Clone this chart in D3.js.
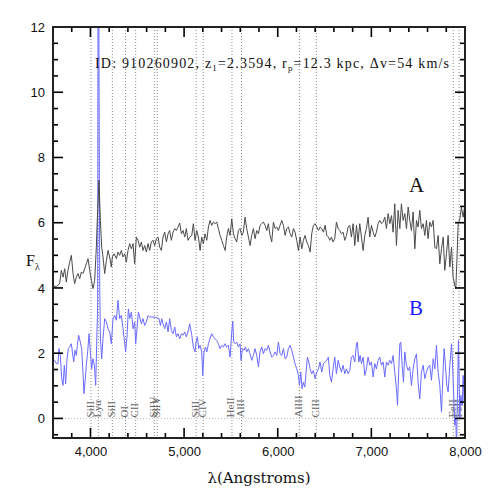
<!DOCTYPE html>
<html>
<head>
<meta charset="utf-8">
<script src="https://cdn.jsdelivr.net/npm/d3@7"></script>
<style>
  body { margin: 0; background: #fff; }
</style>
</head>
<body>
<script>

const width = 491;
const height = 491;
const margin = { top: 27, right: 26, bottom: 53, left: 53 };

// spectre A : [lambda, flux]
const specA = [
  [3600,4.05],[3640,4.05],[3671,4.13],[3689,4.54],[3707,4.33],[3725,4.59],[3742,4.18],[3760,4.54],[3778,4.79],[3796,5.00],
  [3814,4.44],[3831,4.13],[3849,4.33],[3867,4.44],[3885,4.28],[3903,4.49],[3920,4.44],[3938,4.59],[3956,4.74],[3974,4.90],
  [3992,4.54],[4010,4.23],[4027,3.98],[4045,4.23],[4063,5.25],[4074,6.17],[4084,6.79],[4091,7.30],[4106,6.07],[4120,5.25],
  [4134,4.95],[4152,4.44],[4170,4.84],[4188,5.15],[4205,4.95],[4223,4.64],[4234,4.95],[4252,5.05],[4277,4.90],[4294,5.10],
  [4312,5.00],[4330,5.15],[4348,4.95],[4366,5.05],[4383,4.79],[4401,5.15],[4419,5.36],[4437,5.20],[4455,5.36],[4472,4.74],
  [4490,5.56],[4508,5.46],[4526,5.25],[4544,5.41],[4561,5.15],[4579,5.30],[4597,5.10],[4615,5.36],[4633,5.15],[4650,5.41],
  [4668,5.46],[4686,5.30],[4704,5.51],[4722,5.56],[4740,5.25],[4757,5.15],[4775,5.56],[4793,5.71],[4811,5.41],[4829,5.66],
  [4846,5.76],[4864,5.46],[4882,5.71],[4900,5.82],[4918,5.76],[4935,5.87],[4953,5.99],[4971,5.66],[4989,5.76],[5007,5.56],
  [5024,5.82],[5042,5.46],[5060,5.56],[5082,5.61],[5099,5.97],[5117,5.46],[5135,5.76],[5153,5.56],[5171,5.15],[5188,5.56],
  [5206,5.36],[5224,5.66],[5242,5.46],[5260,5.87],[5277,6.07],[5295,5.92],[5313,6.02],[5331,5.97],[5349,6.02],[5366,5.82],
  [5384,5.61],[5402,5.46],[5420,5.30],[5438,5.15],[5455,5.56],[5473,5.82],[5491,5.61],[5509,6.12],[5527,5.66],[5544,5.51],
  [5562,5.41],[5580,5.76],[5598,5.82],[5616,5.61],[5633,5.71],[5651,6.17],[5669,5.82],[5687,5.56],[5705,5.30],[5722,5.61],
  [5740,5.82],[5758,5.51],[5776,5.76],[5794,5.66],[5811,5.92],[5829,5.97],[5847,6.02],[5865,5.92],[5883,5.76],[5900,5.97],
  [5918,5.61],[5936,5.41],[5954,6.02],[5972,5.82],[5990,5.87],[6007,5.76],[6025,5.92],[6043,6.07],[6061,5.92],[6079,5.61],
  [6096,5.82],[6114,5.87],[6132,5.66],[6150,5.56],[6168,5.82],[6185,5.71],[6203,5.46],[6221,5.15],[6239,5.56],[6257,5.20],
  [6274,5.46],[6292,5.61],[6310,5.41],[6328,5.30],[6346,5.10],[6363,5.66],[6381,5.92],[6399,5.97],[6417,5.87],[6435,5.76],
  [6452,5.87],[6470,5.82],[6488,5.71],[6506,5.92],[6524,5.61],[6541,5.56],[6556,5.46],[6574,5.56],[6591,5.41],[6609,5.51],
  [6627,6.02],[6645,5.82],[6663,5.76],[6680,5.66],[6698,5.71],[6716,5.46],[6734,5.61],[6752,5.87],[6769,5.92],[6787,5.56],
  [6805,5.97],[6823,5.30],[6841,5.92],[6858,5.41],[6876,5.97],[6894,5.56],[6912,5.15],[6930,5.61],[6947,5.82],[6965,6.17],
  [6983,5.56],[7001,5.92],[7019,5.71],[7037,5.56],[7054,5.71],[7072,5.97],[7090,6.07],[7108,5.97],[7126,6.02],[7143,6.17],
  [7161,5.82],[7179,6.28],[7197,5.97],[7215,6.22],[7232,5.71],[7250,6.58],[7268,5.30],[7286,6.38],[7304,5.82],[7321,6.58],
  [7339,6.07],[7357,6.28],[7375,5.82],[7393,6.48],[7410,6.07],[7428,5.76],[7446,6.33],[7464,5.20],[7482,6.07],[7499,5.87],
  [7517,6.38],[7535,5.82],[7553,5.97],[7571,5.61],[7588,6.07],[7606,5.51],[7624,6.02],[7642,5.87],[7660,6.07],[7678,5.25],
  [7695,5.20],[7713,5.61],[7731,4.74],[7749,5.20],[7767,5.56],[7784,4.54],[7802,5.05],[7820,5.61],[7838,4.64],[7856,5.25],
  [7873,4.33],[7891,4.08],[7902,3.97],[7916,5.05],[7927,5.97],[7945,6.12],[7962,6.48],[7980,6.17],[7998,6.53]
];

// spectre B : [lambda, flux]
const specB = [
  [3600,1.83],[3618,1.78],[3636,1.68],[3653,1.68],[3664,2.14],[3678,1.93],[3693,1.22],[3707,1.01],[3721,1.63],[3735,1.06],
  [3750,1.83],[3764,2.14],[3778,2.19],[3796,2.29],[3807,2.04],[3821,1.73],[3835,2.09],[3849,1.93],[3860,2.24],[3874,2.55],
  [3892,2.34],[3906,2.14],[3920,1.42],[3931,0.76],[3945,1.22],[3956,1.63],[3970,2.04],[3985,2.60],[3999,2.04],[4013,1.52],
  [4027,1.83],[4042,1.63],[4056,1.01],[4066,2.24],[4077,3.47],[4081,14],[4088,14],[4099,4.00],[4106,2.50],[4120,1.83],
  [4134,2.44],[4152,3.06],[4170,2.96],[4188,2.75],[4205,2.65],[4223,2.29],[4241,3.06],[4259,3.16],[4277,3.01],[4294,3.62],
  [4312,3.06],[4330,3.16],[4348,2.75],[4366,2.29],[4376,2.04],[4391,2.55],[4405,3.36],[4419,3.06],[4437,3.26],[4455,2.75],
  [4472,2.96],[4483,2.29],[4497,2.75],[4512,3.26],[4526,3.11],[4544,2.90],[4561,3.06],[4579,2.85],[4597,2.96],[4615,3.16],
  [4633,3.11],[4668,3.11],[4704,3.09],[4732,3.06],[4747,2.85],[4761,3.06],[4775,2.90],[4793,2.75],[4811,2.96],[4829,2.65],
  [4846,3.06],[4864,2.70],[4882,2.60],[4900,2.80],[4918,2.50],[4935,2.60],[4953,2.44],[4971,2.60],[4989,2.55],[5007,2.65],
  [5024,2.50],[5042,2.65],[5060,2.90],[5082,2.55],[5099,2.19],[5117,2.04],[5128,2.34],[5142,2.50],[5156,2.14],[5171,2.24],
  [5188,2.04],[5199,1.32],[5213,2.04],[5228,2.19],[5242,2.04],[5260,2.29],[5277,2.44],[5295,2.60],[5313,2.50],[5331,2.44],
  [5349,2.39],[5366,2.29],[5384,2.14],[5402,2.24],[5420,2.19],[5438,2.29],[5455,2.19],[5473,2.24],[5491,1.88],[5509,2.65],
  [5520,2.98],[5530,2.34],[5544,2.29],[5562,2.34],[5580,2.19],[5598,2.29],[5608,1.78],[5623,2.14],[5641,2.09],[5655,2.19],
  [5669,2.04],[5687,2.14],[5705,1.98],[5722,1.78],[5740,1.93],[5758,2.14],[5776,1.93],[5794,1.58],[5811,2.04],[5829,2.19],
  [5847,1.98],[5865,2.14],[5883,2.09],[5900,2.24],[5918,2.04],[5936,1.88],[5954,1.93],[5972,2.04],[5990,1.93],[6007,2.34],
  [6025,1.98],[6043,1.93],[6061,2.14],[6079,1.83],[6096,1.88],[6114,2.14],[6132,2.24],[6150,2.09],[6168,1.88],[6185,1.68],
  [6203,1.52],[6221,1.32],[6232,1.01],[6246,1.42],[6260,0.91],[6274,1.11],[6289,0.96],[6303,1.42],[6317,1.88],[6331,1.73],
  [6346,1.52],[6363,1.37],[6381,1.47],[6399,1.22],[6417,1.42],[6435,1.52],[6452,1.73],[6470,1.42],[6488,1.68],[6506,1.73],
  [6524,1.78],[6541,1.88],[6556,1.32],[6574,1.11],[6591,1.52],[6609,1.88],[6627,1.37],[6645,1.78],[6663,1.58],[6680,1.42],
  [6698,1.63],[6716,1.37],[6734,1.52],[6752,1.37],[6769,1.47],[6787,1.88],[6805,1.93],[6823,1.73],[6841,2.29],[6851,2.34],
  [6866,1.73],[6880,1.93],[6894,1.68],[6912,1.88],[6930,1.32],[6947,1.52],[6965,1.88],[6983,1.63],[7001,1.73],[7019,1.27],
  [7037,1.68],[7054,1.52],[7072,1.78],[7090,1.88],[7108,1.63],[7126,1.73],[7143,1.27],[7161,1.73],[7179,1.63],[7197,1.78],
  [7215,1.68],[7232,1.93],[7250,1.42],[7268,0.91],[7279,0.40],[7293,1.52],[7304,2.29],[7314,2.34],[7329,1.63],[7343,1.11],
  [7357,2.04],[7375,1.63],[7393,1.47],[7410,1.58],[7428,1.01],[7446,1.52],[7464,1.83],[7482,1.98],[7499,1.11],[7517,0.60],
  [7535,1.42],[7553,1.63],[7571,1.22],[7588,1.42],[7606,1.58],[7624,1.63],[7642,1.17],[7660,1.83],[7678,1.52],[7695,2.24],
  [7713,1.42],[7731,1.01],[7749,0.19],[7767,1.52],[7777,2.14],[7791,1.63],[7806,1.01],[7820,0.81],[7838,1.63],[7856,2.29],
  [7866,1.73],[7877,0.91],[7891,-0.21],[7902,-0.01],[7909,-1.00],[7920,0.81],[7930,2.39],[7945,-0.01],[7955,0.71],[7970,0.40],
  [7980,1.32],[7991,0.50],[8005,1.22]
];

// raies identifiées (longueurs d'onde observées)
const lineWaves = [4006, 4084, 4234, 4375, 4483, 4682, 4713, 5129, 5204, 5511, 5613, 6231, 6412, 7875, 7937];
const lineNames = ['SiII', 'Lyα', 'SiII', 'OI', 'CII', 'SiIV', 'SiIV', 'SiII', 'CIV', 'HeII', 'AlII', 'AlIII', 'CIII', 'FeII', 'FeII'];

// graduations
const xTicks = [3800, 4000, 4200, 4400, 4600, 4800, 5000, 5200, 5400, 5600, 5800, 6000, 6200, 6400, 6600, 6800, 7000, 7200, 7400, 7600, 7800, 8000];
const yTicks = [-0.5, 0, 0.5, 1, 1.5, 2, 2.5, 3, 3.5, 4, 4.5, 5, 5.5, 6, 6.5, 7, 7.5, 8, 8.5, 9, 9.5, 10, 10.5, 11, 11.5, 12];
const xLabels = [4000, 5000, 6000, 7000, 8000];
const yLabels = [0, 2, 4, 6, 8, 10, 12];

let scaleX, scaleY;

// longueur des graduations : grandes et petites
function tickLength(isMajor) {
    return isMajor ? 10 : 5;
}

function setupSpectrum() {

    const svg = d3.select('body')
    .append('svg')
    .attr('width', width)
    .attr('height', height);

    // échelles
    scaleX = d3.scaleLinear()
    .domain([3600, 8000])
    .range([margin.left, width - margin.right]);

    scaleY = d3.scaleLinear()
    .domain([-0.6, 12])
    .range([height - margin.bottom, margin.top]);

    const bottom = height - margin.bottom;
    const right = width - margin.right;

    svg.append('clipPath')
    .attr('id', 'plotArea')
    .append('rect')
    .attr('x', margin.left)
    .attr('y', margin.top)
    .attr('width', right - margin.left)
    .attr('height', bottom - margin.top);

    // raies en pointillés
    svg.append('g')
    .selectAll('line')
    .data(lineWaves)
    .join('line')
    .attr('x1', d => scaleX(d))
    .attr('x2', d => scaleX(d))
    .attr('y1', margin.top)
    .attr('y2', bottom)
    .attr('stroke', '#8a8a8a')
    .attr('stroke-width', 1)
    .attr('stroke-dasharray', '1,2');

    // ligne zéro
    svg.append('line')
    .attr('x1', margin.left)
    .attr('x2', right)
    .attr('y1', scaleY(0))
    .attr('y2', scaleY(0))
    .attr('stroke', '#bbb')
    .attr('stroke-dasharray', '1,2');

    // noms des raies
    svg.append('g')
    .selectAll('text')
    .data(lineWaves)
    .join('text')
    .attr('transform', d => `translate(${scaleX(d) + 2.5}, ${scaleY(0) - 1}) rotate(-90)`)
    .attr('font-family', 'Liberation Serif, serif')
    .attr('font-size', '11px')
    .attr('fill', '#666')
    .text((d, i) => lineNames[i]);

    const line = d3.line()
    .x(d => scaleX(d[0]))
    .y(d => scaleY(d[1]));

    const curves = svg.append('g').attr('clip-path', 'url(#plotArea)');

    curves.append('path')
    .datum(specB)
    .attr('d', line)
    .attr('fill', 'none')
    .attr('stroke', '#6a6aff')
    .attr('stroke-width', 1);

    curves.append('path')
    .datum(specA)
    .attr('d', line)
    .attr('fill', 'none')
    .attr('stroke', '#4a4a4a')
    .attr('stroke-width', 1);

    // libellés des axes
    const axB = svg.append('g')
    .attr('transform', `translate(0, ${bottom})`)
    .call(d3.axisBottom(scaleX).tickValues(xLabels).tickSize(0).tickPadding(9));

    const axL = svg.append('g')
    .attr('transform', `translate(${margin.left}, 0)`)
    .call(d3.axisLeft(scaleY).tickValues(yLabels).tickSize(0).tickPadding(8));

    [axB, axL].forEach(ax => {
        ax.attr('font-family', 'Liberation Sans, Arial, sans-serif')
        .attr('font-size', 13);
        ax.select('.domain').remove();
        ax.selectAll('.tick text').attr('fill', '#111');
    });

    // graduations vers l'intérieur, sur les quatre côtés
    const xMajor = v => v % 1000 === 0;
    const yMajor = v => v % 2 === 0;
    const ticks = svg.append('g')
    .attr('stroke', '#000')
    .attr('stroke-width', 1.6);

    ticks.selectAll('line.xb')
    .data(xTicks)
    .join('line')
    .attr('class', 'xb')
    .attr('x1', d => scaleX(d))
    .attr('x2', d => scaleX(d))
    .attr('y1', bottom)
    .attr('y2', d => bottom - tickLength(xMajor(d)));

    ticks.selectAll('line.xt')
    .data(xTicks)
    .join('line')
    .attr('class', 'xt')
    .attr('x1', d => scaleX(d))
    .attr('x2', d => scaleX(d))
    .attr('y1', margin.top)
    .attr('y2', d => margin.top + tickLength(xMajor(d)));

    ticks.selectAll('line.yl')
    .data(yTicks)
    .join('line')
    .attr('class', 'yl')
    .attr('y1', d => scaleY(d))
    .attr('y2', d => scaleY(d))
    .attr('x1', margin.left)
    .attr('x2', d => margin.left + tickLength(yMajor(d)));

    ticks.selectAll('line.yr')
    .data(yTicks)
    .join('line')
    .attr('class', 'yr')
    .attr('y1', d => scaleY(d))
    .attr('y2', d => scaleY(d))
    .attr('x1', right)
    .attr('x2', d => right - tickLength(yMajor(d)));

    // cadre
    svg.append('rect')
    .attr('x', margin.left)
    .attr('y', margin.top)
    .attr('width', right - margin.left)
    .attr('height', bottom - margin.top)
    .attr('fill', 'none')
    .attr('stroke', '#222')
    .attr('stroke-width', 2);

    // titre
    const title = svg.append('text')
    .attr('x', 95)
    .attr('y', 68)
    .attr('font-family', 'Liberation Serif, serif')
    .attr('font-size', '14px')
    .attr('fill', '#111')
    .attr('textLength', 354)
    .attr('lengthAdjust', 'spacing');
    title.append('tspan').text('ID: 910260902,  z');
    title.append('tspan').attr('font-size', '9px').attr('dy', 3).text('1');
    title.append('tspan').attr('dy', -3).text('=2.3594,  r');
    title.append('tspan').attr('font-size', '9px').attr('dy', 3).text('p');
    title.append('tspan').attr('dy', -3).text('=12.3 kpc,  Δv=54 km/s');

    // étiquettes A et B
    svg.append('text')
    .attr('x', 409)
    .attr('y', 192)
    .attr('font-family', 'Liberation Serif, serif')
    .attr('font-size', '21px')
    .attr('fill', '#111')
    .text('A');

    svg.append('text')
    .attr('x', 409)
    .attr('y', 315)
    .attr('font-family', 'Liberation Serif, serif')
    .attr('font-size', '21px')
    .attr('fill', '#1a1aff')
    .text('B');

    // titres des axes
    const yLabel = svg.append('text')
    .attr('x', 26)
    .attr('y', 266)
    .attr('font-family', 'Liberation Serif, serif')
    .attr('font-size', '16px')
    .attr('fill', '#111');
    yLabel.append('tspan').text('F');
    yLabel.append('tspan').attr('font-size', '10px').attr('dy', 4).text('λ');

    svg.append('text')
    .attr('x', 259)
    .attr('y', 483)
    .attr('text-anchor', 'middle')
    .attr('font-family', 'DejaVu Serif, serif')
    .attr('font-size', '15px')
    .attr('fill', '#111')
    .text('λ(Angstroms)');
}

setupSpectrum();
</script>
</body>
</html>
